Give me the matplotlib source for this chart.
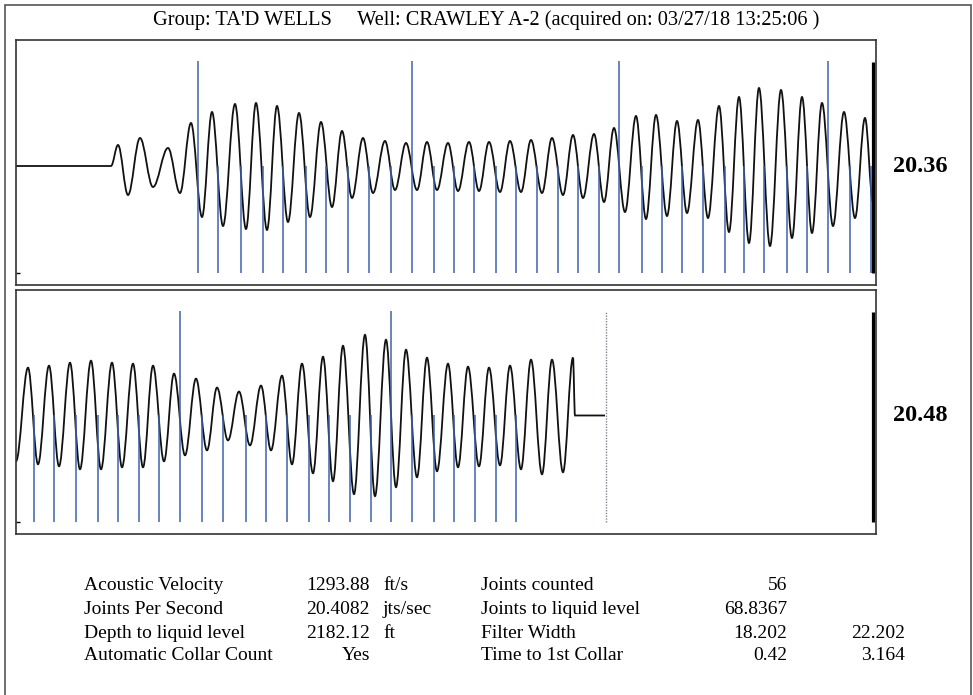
import matplotlib.pyplot as plt
from matplotlib.path import Path
from matplotlib.patches import PathPatch, Rectangle

plt.rcParams['font.family'] = ['Liberation Serif', 'DejaVu Serif']

# --- data (x in samples from the left edge of each panel, amplitude arbitrary) ---
title = "Group: TA'D WELLS     Well: CRAWLEY A-2 (acquired on: 03/27/18 13:25:06 )"

# upper panel waveform: turning points of the echo trace
top_t = [0, 95, 102, 112, 124, 137, 152, 164, 175, 186, 196, 207, 219, 230, 240, 251,
         261, 272, 283, 294, 305, 316, 326, 336, 347, 357, 369, 379, 390, 401, 411, 421,
         432, 442, 453, 463, 473, 484, 494, 505, 515, 526, 536, 547, 557, 567, 578, 588,
         598, 609, 620, 630, 640, 651, 661, 671, 682, 692, 703, 713, 723, 733, 743, 754,
         765, 776, 786, 796, 806, 817, 828, 839, 849, 857]
top_a = [0, 0, 21, -29, 28, -21, 18, -27, 43, -51, 54, -60, 62, -63, 63, -64,
         60, -56, 53, -51, 44, -41, 35, -32, 28, -27, 25, -24, 23, -24, 24, -24,
         23, -25, 24, -25, 24, -26, 25, -26, 26, -27, 28, -29, 31, -32, 32, -36,
         38, -46, 50, -53, 51, -50, 45, -47, 46, -52, 60, -66, 69, -77, 78, -80,
         76, -72, 69, -67, 63, -60, 54, -52, 48, -36]

# lower panel waveform
bot_t = [0, 12, 22, 33, 43, 54, 64, 75, 85, 96, 106, 117, 127, 137, 148, 158,
         169, 180, 191, 201, 212, 223, 234, 245, 255, 266, 276, 286, 297, 307, 317, 327,
         338, 349, 359, 370, 380, 390, 401, 411, 421, 432, 442, 452, 463, 473, 484, 494,
         505, 515, 526, 536, 547, 557, 559, 589]
bot_a = [-46, 48, -49, 50, -51, 53, -54, 55, -54, 53, -52, 52, -52, 50, -46, 42,
         -40, 37, -35, 28, -25, 24, -30, 30, -35, 40, -49, 52, -58, 59, -66, 70,
         -79, 81, -81, 76, -72, 66, -62, 58, -56, 52, -52, 49, -51, 48, -50, 50,
         -54, 56, -59, 56, -57, 58, 0, 0]

# collar picks (joint number 0 = first collar, every 10th drawn tall)
top_collars = [182, 202, 225, 247, 267, 290, 310, 332, 353, 375, 396, 418, 438, 458,
               480, 500, 521, 542, 562, 583, 603, 626, 646, 666, 687, 709, 728, 748,
               771, 791, 812, 834, 855]
bot_collars = [18, 38, 60, 82, 102, 123, 143, 164, 186, 207, 230, 250, 271, 293, 313,
               334, 355, 375, 396, 418, 438, 459, 480, 500]
liquid_level = 590
panel_end = 857
panel_labels = ['20.36', '20.48']

rows_left = ['Acoustic Velocity', 'Joints Per Second', 'Depth to liquid level', 'Automatic Collar Count']
vals_left = ['1293.88', '20.4082', '2182.12', 'Yes']
units_left = ['ft/s', 'jts/sec', 'ft', '']
rows_right = ['Joints counted', 'Joints to liquid level', 'Filter Width', 'Time to 1st Collar']
vals_right = ['56', '68.8367', '18.202', '0.42']
vals_extra = ['', '', '22.202', '3.164']


def wave_path(ts, amps):
    # smooth half-cycles between turning points using cubic bezier segments
    verts = [(ts[0], amps[0])]
    codes = [Path.MOVETO]
    for i in range(1, len(ts)):
        d = 0.364 * (ts[i] - ts[i - 1])
        verts += [(ts[i - 1] + d, amps[i - 1]), (ts[i] - d, amps[i]), (ts[i], amps[i])]
        codes += [Path.CURVE4] * 3
    return Path(verts, codes)


W, H = 973, 695
fig = plt.figure(figsize=(9.73, 6.95), dpi=100)
fig.add_artist(Rectangle((5 / W, -0.05), 966 / W, 1.05 - 5 / H, transform=fig.transFigure,
                         fill=False, ec='#555555', lw=1.2))

ax1 = fig.add_axes([16 / W, 1 - 285 / H, 860 / W, 245 / H])
ax2 = fig.add_axes([16 / W, 1 - 534 / H, 860 / W, 244 / H])

blue = '#3d63ae'
for k, ax in enumerate([ax1, ax2]):
    ax.set_xlim(0, 860)
    ax.set_ylim(-119, 126)
    ax.set_xticks([])
    ax.set_yticks([-107])
    ax.tick_params(axis='y', direction='in', length=3, width=1, labelleft=False)
    for s in ax.spines.values():
        s.set_color('#333333')
        s.set_linewidth(1.2)
    ax.text(1.052, (0 + 119) / 245, panel_labels[k], transform=ax.transAxes,
            ha='center', va='center', fontsize=17.5, fontweight='bold')

# collars
offset = 0
for ax, collars in [(ax1, top_collars), (ax2, bot_collars)]:
    for j, c in enumerate(collars):
        if (j + offset) % 10 == 0:
            ax.vlines(c, -107, 105, color=blue, lw=1.1)
        else:
            ax.vlines(c, -107, 0, color=blue, lw=1.1)
    offset += len(collars)

ax1.add_patch(PathPatch(wave_path(top_t, top_a), fill=False, ec='#111111', lw=1.3))
ax2.add_patch(PathPatch(wave_path(bot_t, bot_a), fill=False, ec='#111111', lw=1.3))

for ax in [ax1, ax2]:
    ax.vlines(panel_end, -107, 104, color='black', lw=2.3)
ax2.vlines(liquid_level, -107, 105, color='#8a7d90', lw=1.0, linestyles=(0, (1, 1)))

fig.text(486 / W, 1 - 20 / H, title, ha='center', va='center', fontsize=14.7)

row_y = [585, 609, 633, 656]
for i in range(4):
    y = 1 - row_y[i] / H
    fig.text(84 / W, y, rows_left[i], ha='left', va='center', fontsize=14)
    fig.text(370 / W, y, vals_left[i], ha='right', va='center', fontsize=14)
    fig.text(383 / W, y, units_left[i], ha='left', va='center', fontsize=14)
    fig.text(481 / W, y, rows_right[i], ha='left', va='center', fontsize=14)
    fig.text(787 / W, y, vals_right[i], ha='right', va='center', fontsize=14)
    fig.text(905 / W, y, vals_extra[i], ha='right', va='center', fontsize=14)

fig.savefig('out.png', dpi=100)
